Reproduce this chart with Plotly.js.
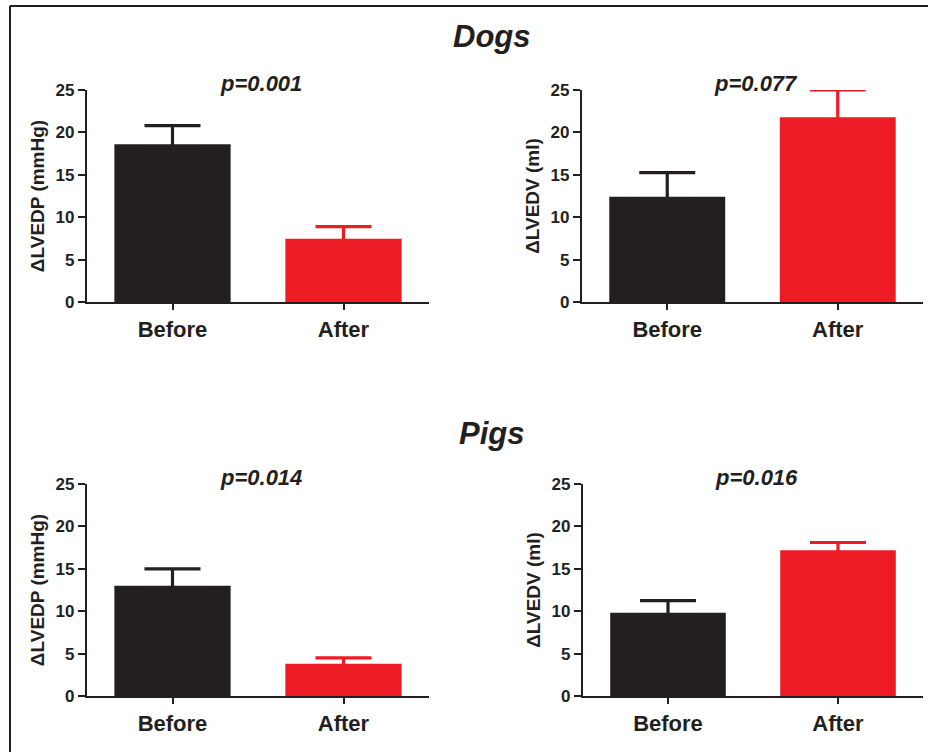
<!DOCTYPE html>
<html>
<head>
<meta charset="utf-8">
<script src="https://cdn.plot.ly/plotly-3.0.1.min.js"></script>
<style>html,body{margin:0;padding:0;background:#fff;}#chart{width:929px;height:752px;}</style>
</head>
<body>
<div id="chart"></div>
<script>
// ---- data ----
var categories = ['Before', 'After'];
var dogsLVEDP = [18.6, 7.45];
var dogsLVEDPErr = [2.2, 1.45];
var dogsLVEDV = [12.4, 21.8];
var dogsLVEDVErr = [2.85, 3.2];
var pigsLVEDP = [13.0, 3.8];
var pigsLVEDPErr = [2.0, 0.7];
var pigsLVEDV = [9.83, 17.2];
var pigsLVEDVErr = [1.42, 0.9];
var pValues = ['p=0.001', 'p=0.077', 'p=0.014', 'p=0.016'];
var yTitles = ['ΔLVEDP (mmHg)', 'ΔLVEDV (ml)', 'ΔLVEDP (mmHg)', 'ΔLVEDV (ml)'];
var groupTitles = ['Dogs', 'Pigs'];
var yTickVals = [0, 5, 10, 15, 20, 25];

var W = 929, H = 752;
var INK = '#231f20';
var barColors = ['#231f20', '#ed1c24'];
var FONT = 'Liberation Sans, Arial, sans-serif';
// the lower "shoe" of the error bar is tucked inside the bar (same colour), so only the upper SEM shows
var HIDDEN_SHOE = 0.45;

var panels = [
  {vals: dogsLVEDP, errs: dogsLVEDPErr, x0: 87, x1: 429, yTop: 90, yBot: 302},
  {vals: dogsLVEDV, errs: dogsLVEDVErr, x0: 582, x1: 923, yTop: 90, yBot: 302},
  {vals: pigsLVEDP, errs: pigsLVEDPErr, x0: 87, x1: 429, yTop: 484, yBot: 696},
  {vals: pigsLVEDV, errs: pigsLVEDVErr, x0: 583, x1: 923, yTop: 484, yBot: 696}
];

var data = [];
var layout = {
  width: W, height: H,
  margin: {l: 0, r: 0, t: 0, b: 0},
  paper_bgcolor: '#ffffff', plot_bgcolor: '#ffffff',
  showlegend: false,
  barmode: 'overlay',
  font: {family: FONT, color: INK},
  annotations: [],
  shapes: [
    {type: 'line', xref: 'paper', yref: 'paper', x0: 10 / W, x1: 10 / W, y0: 1 - 6 / H, y1: 0, line: {color: INK, width: 2}},
    {type: 'line', xref: 'paper', yref: 'paper', x0: 10 / W, x1: 928 / W, y0: 1 - 6 / H, y1: 1 - 6 / H, line: {color: INK, width: 2}}
  ]
};

panels.forEach(function (p, i) {
  var n = i + 1;
  var xa = 'x' + (n === 1 ? '' : n), ya = 'y' + (n === 1 ? '' : n);
  categories.forEach(function (c, j) {
    data.push({
      type: 'bar',
      x: [c], y: [p.vals[j]],
      xaxis: xa, yaxis: ya,
      width: 0.68,
      cliponaxis: false,
      marker: {color: barColors[j], line: {width: 0}},
      error_y: {type: 'data', symmetric: false, array: [p.errs[j]], arrayminus: [HIDDEN_SHOE],
                color: barColors[j], thickness: 3.2, width: 28},
      hoverinfo: 'skip'
    });
  });
  var xKey = 'xaxis' + (n === 1 ? '' : n), yKey = 'yaxis' + (n === 1 ? '' : n);
  layout[xKey] = {
    domain: [p.x0 / W, p.x1 / W],
    anchor: ya,
    type: 'category',
    categoryorder: 'array', categoryarray: categories,
    range: [-0.5, 1.5],
    showline: true, linecolor: INK, linewidth: 2.2,
    ticks: 'outside', ticklen: 6, tickwidth: 2, tickcolor: INK,
    showgrid: false, zeroline: false,
    tickfont: {family: FONT, size: 22, weight: 'bold', color: INK},
    fixedrange: true
  };
  layout[yKey] = {
    domain: [1 - p.yBot / H, 1 - p.yTop / H],
    anchor: xa,
    range: [0, 25],
    tickvals: yTickVals,
    showline: true, linecolor: INK, linewidth: 2.2,
    ticks: 'outside', ticklen: 7, tickwidth: 2, tickcolor: INK,
    showgrid: false, zeroline: false,
    tickfont: {family: FONT, size: 17, weight: 'bold', color: INK},
    title: {text: yTitles[i], font: {family: FONT, size: 19, weight: 'bold', color: INK}, standoff: 6},
    fixedrange: true
  };
  var pBase = p.yTop + 0.7;
  layout.annotations.push({
    xref: 'paper', yref: 'paper',
    x: (p.x0 + p.x1) / 2 / W + 3 / W, y: 1 - (pBase - 7) / H,
    xanchor: 'center', yanchor: 'middle',
    text: pValues[i], showarrow: false,
    font: {family: FONT, size: 22, weight: 'bold', style: 'italic', color: INK}
  });
});

layout.annotations.push({
  xref: 'paper', yref: 'paper', x: 491.5 / W, y: 1 - 37 / H,
  xanchor: 'center', yanchor: 'middle', text: groupTitles[0], showarrow: false,
  font: {family: FONT, size: 31, weight: 'bold', style: 'italic', color: INK}
});
layout.annotations.push({
  xref: 'paper', yref: 'paper', x: 491.5 / W, y: 1 - 433 / H,
  xanchor: 'center', yanchor: 'middle', text: groupTitles[1], showarrow: false,
  font: {family: FONT, size: 31, weight: 'bold', style: 'italic', color: INK}
});

Plotly.newPlot('chart', data, layout, {displayModeBar: false, staticPlot: true});
</script>
</body>
</html>
